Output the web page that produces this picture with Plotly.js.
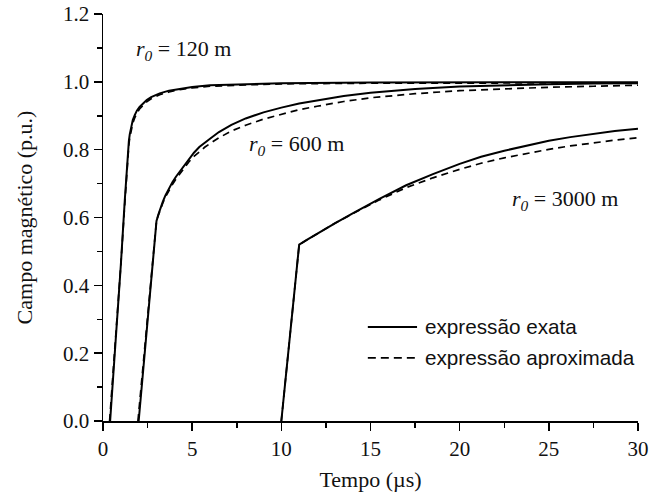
<!DOCTYPE html>
<html>
<head>
<meta charset="utf-8">
<script src="https://cdn.plot.ly/plotly-3.0.1.min.js"></script>
<style>
  html, body { margin: 0; padding: 0; background: #fff; }
  #chart { width: 649px; height: 504px; }
</style>
</head>
<body>
<div id="chart"></div>
<script>
// Magnetic field (p.u.) versus time (µs) for three distances r0
// exact expression (solid) and approximate expression (dashed)

const t120Exact  = [0.40, 0.70, 1.00, 1.22, 1.40, 1.45, 1.50, 1.58, 1.67, 1.78, 1.90, 2.05, 2.23, 2.45, 2.70, 3.18, 3.70, 4.30, 5.00, 6.00, 8.00, 10.0, 15.0, 20.0, 30.0];
const b120Exact  = [0.00, 0.22, 0.46, 0.65, 0.80, 0.825, 0.845, 0.868, 0.887, 0.902, 0.915, 0.926, 0.936, 0.946, 0.955, 0.966, 0.974, 0.980, 0.985, 0.990, 0.994, 0.996, 0.998, 0.998, 0.999];
const t120Approx = [0.37, 0.70, 1.00, 1.22, 1.40, 1.45, 1.50, 1.58, 1.67, 1.78, 1.90, 2.05, 2.23, 2.45, 2.70, 3.18, 3.70, 4.30, 5.00, 6.00, 8.00, 10.0, 15.0, 20.0, 30.0];
const b120Approx = [0.00, 0.23, 0.46, 0.64, 0.79, 0.815, 0.835, 0.858, 0.878, 0.894, 0.908, 0.920, 0.930, 0.941, 0.950, 0.962, 0.970, 0.977, 0.982, 0.987, 0.991, 0.994, 0.996, 0.997, 0.997];

const t600Exact  = [2.00, 3.00, 3.10, 3.20, 3.35, 3.50, 3.70, 3.90, 4.10, 4.30, 4.55, 4.80, 5.10, 5.40, 5.70, 6.00, 6.50, 7.20, 8.00, 9.00, 10.0, 11.0, 12.0, 13.5, 15.0, 17.5, 20.0, 22.5, 25.0, 27.5, 30.0];
const b600Exact  = [0.00, 0.59, 0.608, 0.625, 0.646, 0.665, 0.686, 0.705, 0.721, 0.735, 0.754, 0.772, 0.791, 0.808, 0.821, 0.832, 0.852, 0.873, 0.892, 0.910, 0.924, 0.936, 0.945, 0.958, 0.968, 0.979, 0.986, 0.990, 0.993, 0.995, 0.996];
const t600Approx = [1.96, 3.00, 3.10, 3.20, 3.35, 3.50, 3.70, 3.90, 4.10, 4.30, 4.55, 4.80, 5.10, 5.40, 5.70, 6.00, 6.50, 7.20, 8.00, 9.00, 10.0, 11.0, 12.0, 13.5, 15.0, 17.5, 20.0, 22.5, 25.0, 27.5, 30.0];
const b600Approx = [0.00, 0.59, 0.606, 0.622, 0.642, 0.660, 0.680, 0.698, 0.714, 0.728, 0.746, 0.763, 0.780, 0.795, 0.807, 0.818, 0.835, 0.855, 0.872, 0.890, 0.905, 0.918, 0.928, 0.942, 0.953, 0.965, 0.974, 0.980, 0.984, 0.987, 0.990];

const t3000Exact  = [10.0, 11.0, 11.5, 12.0, 13.0, 14.0, 15.5, 17.0, 18.5, 20.0, 21.2, 22.5, 23.7, 25.0, 26.2, 27.5, 28.7, 30.0];
const b3000Exact  = [0.00, 0.52, 0.536, 0.552, 0.583, 0.612, 0.655, 0.695, 0.728, 0.758, 0.779, 0.797, 0.812, 0.826, 0.837, 0.847, 0.855, 0.862];
const t3000Approx = [10.0, 11.0, 11.5, 12.0, 13.0, 14.0, 15.5, 17.0, 18.5, 20.0, 21.2, 22.5, 23.7, 25.0, 26.2, 27.5, 28.7, 30.0];
const b3000Approx = [0.00, 0.52, 0.536, 0.552, 0.583, 0.611, 0.652, 0.688, 0.717, 0.742, 0.760, 0.776, 0.789, 0.801, 0.811, 0.820, 0.828, 0.835];

const distanceLabels = ['120', '600', '3000'];
const labelX = [1.72, 8.06, 22.8];
const labelY = [1.093, 0.813, 0.652];

const legendNames = ['expressão exata', 'expressão aproximada'];

const solid  = { color: '#000', width: 2, dash: 'solid' };
const dashed = { color: '#000', width: 1.7, dash: '7px,5px' };

function curve(x, y, line, name) {
  return { x: x, y: y, type: 'scatter', mode: 'lines', line: line,
           name: name, showlegend: false, hoverinfo: 'skip' };
}

const traces = [
  curve(t120Exact,  b120Exact,  solid,  legendNames[0]),
  curve(t120Approx, b120Approx, dashed, legendNames[1]),
  curve(t600Exact,  b600Exact,  solid,  legendNames[0]),
  curve(t600Approx, b600Approx, dashed, legendNames[1]),
  curve(t3000Exact,  b3000Exact,  solid,  legendNames[0]),
  curve(t3000Approx, b3000Approx, dashed, legendNames[1])
];

const serif = 'Liberation Serif, Times New Roman, serif';
const sans  = 'Liberation Sans, Arial, sans-serif';

const annotations = distanceLabels.map((d, i) => ({
  x: labelX[i], y: labelY[i], xref: 'x', yref: 'y',
  xanchor: 'left', yanchor: 'middle', showarrow: false,
  text: '<i>r</i><sub><i>0</i></sub> = ' + d + ' m',
  font: { family: serif, size: 22, color: '#111' }
}));

// Legend key drawn in the lower right of the plot area (paper coordinates)
const keyX0 = 0.495, keyX1 = 0.587, keyTextX = 0.598;
const keyRows = [0.231, 0.155];
const keyStyles = [solid, { color: '#000', width: 1.7, dash: '8px,5px' }];

const shapes = keyRows.map((yy, i) => ({
  type: 'line', xref: 'paper', yref: 'paper',
  x0: keyX0, x1: keyX1, y0: yy, y1: yy,
  line: { color: keyStyles[i].color, width: keyStyles[i].width, dash: keyStyles[i].dash }
}));

keyRows.forEach((yy, i) => annotations.push({
  x: keyTextX, y: yy, xref: 'paper', yref: 'paper',
  xanchor: 'left', yanchor: 'middle', showarrow: false,
  text: legendNames[i],
  font: { family: sans, size: 20.7, color: '#111' }
}));

const layout = {
  width: 649, height: 504,
  margin: { l: 103, r: 11, t: 14, b: 83 },
  paper_bgcolor: '#fff', plot_bgcolor: '#fff',
  showlegend: false,
  xaxis: {
    range: [0, 30], dtick: 5, tick0: 0,
    showline: true, linecolor: '#000', linewidth: 1.5,
    ticks: 'outside', ticklen: 8, tickwidth: 1.5, tickcolor: '#000',
    minor: { dtick: 2.5, ticks: 'outside', ticklen: 5, tickwidth: 1.5, tickcolor: '#000', showgrid: false },
    showgrid: false, zeroline: false,
    tickfont: { family: serif, size: 21, color: '#111' },
    title: { text: 'Tempo (µs)', font: { family: serif, size: 22, color: '#111' }, standoff: 12 }
  },
  yaxis: {
    range: [0, 1.2], dtick: 0.2, tick0: 0, tickformat: '.1f',
    showline: true, linecolor: '#000', linewidth: 1.5,
    ticks: 'outside', ticklen: 8, tickwidth: 1.5, tickcolor: '#000',
    minor: { dtick: 0.1, ticks: 'outside', ticklen: 5, tickwidth: 1.5, tickcolor: '#000', showgrid: false },
    showgrid: false, zeroline: false,
    tickfont: { family: serif, size: 21, color: '#111' },
    title: { text: 'Campo magnético (p.u.)', font: { family: serif, size: 22, color: '#111' }, standoff: 24 }
  },
  shapes: shapes,
  annotations: annotations
};

Plotly.newPlot('chart', traces, layout, { displayModeBar: false, staticPlot: true });
</script>
</body>
</html>
